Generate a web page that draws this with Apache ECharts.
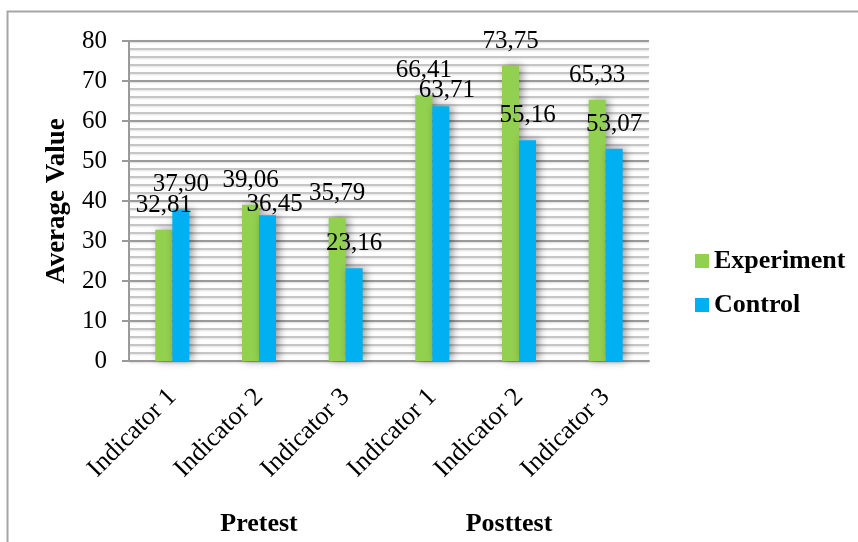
<!DOCTYPE html>
<html>
<head>
<meta charset="utf-8">
<script src="https://cdn.jsdelivr.net/npm/echarts@6/dist/echarts.min.js"></script>
<style>
  html, body { margin: 0; padding: 0; background: #ffffff; }
  #chart { width: 858px; height: 542px; }
</style>
</head>
<body>
<div id="chart"></div>
<script>
// Indicator scores for both groups, pretest then posttest
const categories = ['Indicator 1', 'Indicator 2', 'Indicator 3', 'Indicator 1', 'Indicator 2', 'Indicator 3'];
const phases = ['Pretest', 'Posttest'];
const experiment = [32.81, 39.06, 35.79, 66.41, 73.75, 65.33];
const control = [37.90, 36.45, 23.16, 63.71, 55.16, 53.07];
const yTicks = { min: 0, max: 80, step: 10 };

const SERIF = '"Liberation Serif", "Times New Roman", serif';
const GREEN = '#92D050';
const BLUE = '#00B0F0';

// a couple of value labels sit slightly apart from their bars
const labelNudge = { control: { 1: [7, 14], 3: [6, 9] } };

const fmt = v => Number(v).toFixed(2).replace('.', ',');

function buildSeries(name, values, color, key) {
  return {
    name: name,
    type: 'bar',
    xAxisIndex: 0,
    barWidth: 17,
    barGap: '0%',
    itemStyle: {
      color: color,
      shadowColor: 'rgba(0,0,0,0.4)',
      shadowBlur: 8,
      shadowOffsetX: 3
    },
    label: {
      show: true,
      position: 'top',
      distance: 12,
      color: '#000',
      fontFamily: SERIF,
      fontSize: 25,
      formatter: p => fmt(p.value)
    },
    data: values.map((v, i) => {
      const n = labelNudge[key] && labelNudge[key][i];
      return n ? { value: v, label: { offset: n } } : v;
    })
  };
}

const chart = echarts.init(document.getElementById('chart'), null, { renderer: 'canvas' });

chart.setOption({
  animation: false,
  backgroundColor: '#ffffff',
  textStyle: { fontFamily: SERIF },
  grid: { left: 129, right: 209, top: 41, bottom: 181, containLabel: false },
  legend: {
    orient: 'vertical',
    left: 690,
    top: 243,
    itemWidth: 14,
    itemHeight: 14,
    itemGap: 18,
    icon: 'rect',
    textStyle: { fontFamily: SERIF, fontSize: 26, fontWeight: 'bold', color: '#000' },
    data: ['Experiment', 'Control']
  },
  xAxis: [
    {
      type: 'category',
      data: categories,
      axisLine: { show: true, lineStyle: { color: '#9a9a9a', width: 2 } },
      axisTick: { show: false },
      axisLabel: {
        interval: 0,
        rotate: 45,
        margin: 32,
        color: '#000',
        fontFamily: SERIF,
        fontSize: 26
      }
    },
    {
      type: 'category',
      position: 'bottom',
      offset: 142,
      data: phases.map((p, i) => i === 1
        ? { value: p, textStyle: { padding: [0, 20, 0, 0] } }
        : p),
      axisLine: { show: false },
      axisTick: { show: false },
      axisLabel: {
        interval: 0,
        color: '#000',
        fontFamily: SERIF,
        fontSize: 26,
        fontWeight: 'bold'
      }
    }
  ],
  yAxis: {
    type: 'value',
    min: yTicks.min,
    max: yTicks.max,
    interval: yTicks.step,
    name: 'Average Value',
    nameLocation: 'middle',
    nameGap: 58,
    nameRotate: 90,
    nameTextStyle: { fontFamily: SERIF, fontSize: 27, fontWeight: 'bold', color: '#000' },
    axisLine: { show: true, lineStyle: { color: '#9a9a9a', width: 2 } },
    axisTick: { show: true, length: 7, lineStyle: { color: '#9a9a9a', width: 2 } },
    axisLabel: { margin: 22, color: '#000', fontFamily: SERIF, fontSize: 25 },
    splitLine: {
      show: true,
      lineStyle: { color: '#9a9a9a', width: 2, shadowColor: 'rgba(0,0,0,0.15)', shadowBlur: 2, shadowOffsetY: 1 }
    },
    minorTick: { show: false, splitNumber: 5 },
    minorSplitLine: {
      show: true,
      lineStyle: { color: '#c6c6c6', width: 2, shadowColor: 'rgba(0,0,0,0.12)', shadowBlur: 2, shadowOffsetY: 1 }
    }
  },
  graphic: [
    {
      type: 'rect',
      silent: true,
      shape: { x: 7.5, y: 11.5, width: 900, height: 600 },
      style: { fill: 'none', stroke: '#a6a6a6', lineWidth: 2 }
    }
  ],
  series: [
    buildSeries('Experiment', experiment, GREEN, 'experiment'),
    buildSeries('Control', control, BLUE, 'control')
  ]
});
</script>
</body>
</html>
